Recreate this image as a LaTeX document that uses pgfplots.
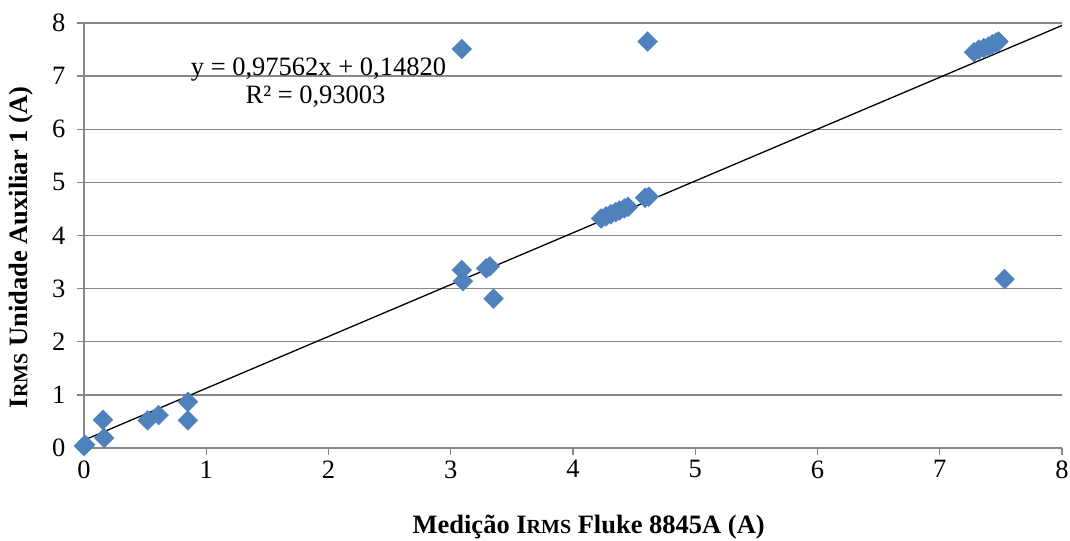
\documentclass[border=0pt]{standalone}
\usepackage{fontspec}
\setmainfont{Liberation Serif}
\usepackage{pgfplots}
\pgfplotsset{compat=1.18}
\definecolor{pt}{HTML}{4F81BD}
\definecolor{gridc}{HTML}{878787}

\newcommand{\irms}{I{\fontsize{20}{20}\selectfont RMS}}

\begin{document}
\begin{tikzpicture}
\begin{axis}[
  name=ax, scale only axis,
  width=978pt, height=425pt,
  xmin=0, xmax=8, ymin=0, ymax=8,
  xtick={0,1,2,3,4,5,6,7,8}, ytick={0,1,2,3,4,5,6,7,8},
  axis x line*=bottom, axis y line*=left,
  axis line style={gridc, line width=1.3pt, -},
  ymajorgrids, grid style={gridc, line width=1.3pt},
  tick style={gridc, line width=1.3pt},
  tick align=outside, major tick length=7pt,
  tick label style={font=\fontsize{26.5}{30}\selectfont},
  yticklabel style={xshift=-8pt},
  xticklabel style={yshift=-2pt},
  /pgf/number format/assume math mode=true,
  xlabel={\bfseries Medição \irms\ Fluke 8845A (A)},
  ylabel={\bfseries \irms\ Unidade Auxiliar 1 (A)},
  xlabel style={at={(axis description cs:0.516,-0.186)}, anchor=center, font=\fontsize{26.5}{30}\selectfont},
  ylabel style={at={(axis description cs:-0.0644,0.472)}, anchor=center, font=\fontsize{26.5}{30}\selectfont},
  clip=false,
]
\addplot[only marks, mark=square*, mark size=7pt, mark options={rotate=45, fill=pt, draw=pt}] coordinates {
  (0,0.04) (0.01,0.06) (0.155,0.53) (0.165,0.19)
  (0.52,0.52) (0.61,0.62) (0.85,0.87) (0.85,0.52)
  (3.09,7.51) (4.61,7.65)
  (3.09,3.35) (3.10,3.14) (3.29,3.38) (3.32,3.42) (3.35,2.81)
  (4.23,4.32) (4.27,4.36) (4.31,4.40) (4.35,4.44) (4.38,4.47) (4.42,4.51) (4.45,4.54)
  (4.59,4.71) (4.62,4.73)
  (7.28,7.45) (7.32,7.50) (7.36,7.53) (7.40,7.56) (7.43,7.60) (7.46,7.63) (7.48,7.65)
  (7.53,3.18)
};
\addplot[black, line width=1.3pt] coordinates {(0,0.1482) (8,7.95316)};
\node[anchor=base, font=\fontsize{26.5}{30}\selectfont] at (axis cs:1.918,7.02) {y = 0,97562x + 0,14820};
\node[anchor=base, font=\fontsize{26.5}{30}\selectfont] at (axis cs:1.894,6.494) {R² = 0,93003};
\end{axis}
\pgfresetboundingbox
\path ([shift={(-84pt,-92pt)}]ax.south west) rectangle ([shift={(8pt,23pt)}]ax.north east);
\end{tikzpicture}
\end{document}
